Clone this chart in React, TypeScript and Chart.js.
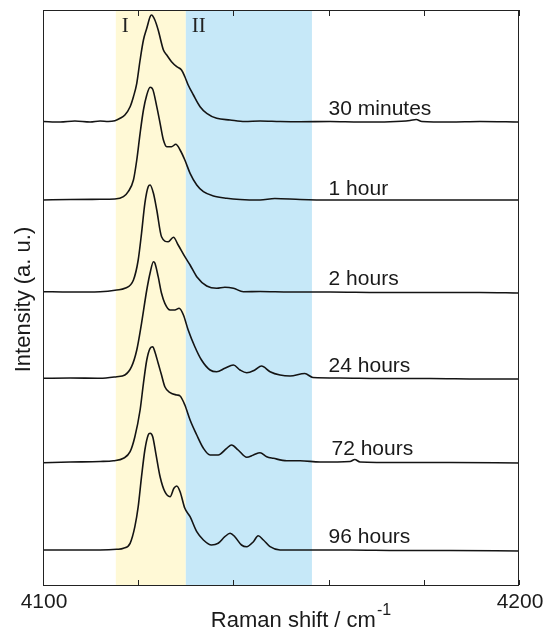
import React, { useEffect, useRef } from "react";
import { Chart, registerables } from "chart.js";

Chart.register(...registerables);

// ---- axis ranges & ticks ----
const X_MIN = 4100;
const X_MAX = 4200;
const Y_MIN = 0;
const Y_MAX = 115;
const xTickValues = [4100, 4120, 4140, 4160, 4180, 4200];
const xTickLabels = ["4100", "", "", "", "", "4200"];
const xTitle = "Raman shift / cm";
const xTitleSup = "-1";
const yTitle = "Intensity (a. u.)";

// ---- shaded regions ----
const regionStarts = [4115.3, 4130];
const regionEnds = [4130, 4156.5];
const regionLabels = ["I", "II"];
const regionColors = ["#FFF9D6", "#C6E8F8"];

// ---- series labels ----
const seriesNames = ["30 minutes", "1 hour", "2 hours", "24 hours", "72 hours", "96 hours"];
const labelX = [4160, 4160, 4160, 4160, 4160.6, 4160];
const labelY = [94, 78, 60, 42.7, 26, 8.5];

// ---- spectra (offset stacked, arbitrary units) ----
const shift30m = [4100, 4103.6, 4106.7, 4109.9, 4112.0, 4113.7, 4115.1, 4116.2, 4117.2, 4118.3, 4119.0, 4119.7, 4120.4, 4121.1, 4121.8, 4122.5, 4122.8, 4123.5, 4124.2, 4125.3, 4126.0, 4127.0, 4128.1, 4129.1, 4129.8, 4130.5, 4131.6, 4133.0, 4134.4, 4136.5, 4139.3, 4142.4, 4145.6, 4149.8, 4154.0, 4160.3, 4166.6, 4172.9, 4177.1, 4178.4, 4179.6, 4185.5, 4191.8, 4200];
const int30m = [92.7, 92.6, 92.8, 92.6, 92.8, 92.7, 92.86, 93.34, 94.0, 95.66, 97.66, 100.34, 105, 109, 111.34, 113.66, 114, 113, 111, 107, 106, 104.66, 103.66, 103, 101.66, 100, 98, 95.66, 94.34, 93.34, 93, 92.7, 92.8, 92.7, 92.66, 92.7, 92.6, 92.66, 92.9, 93.1, 92.7, 92.6, 92.7, 92.6];

const shift1h = [4100, 4105.7, 4112.0, 4115.1, 4116.9, 4117.9, 4119.0, 4119.7, 4120.4, 4121.1, 4121.8, 4122.5, 4123.05, 4123.9, 4124.6, 4125.3, 4126.0, 4127.0, 4127.9, 4128.8, 4129.8, 4130.9, 4132.3, 4133.7, 4135.8, 4138.6, 4141.4, 4145.6, 4148.7, 4154.0, 4160.3, 4170.8, 4181.3, 4191.8, 4200];
const int1h = [77, 77.1, 77.14, 77.2, 77.66, 78.66, 81, 85, 90.34, 95, 98, 99.54, 99.14, 95.66, 92.34, 89, 87.66, 87.66, 88.14, 87, 85, 82.34, 80, 78.66, 77.8, 77.34, 77.1, 77, 77.3, 77.1, 77, 77, 77, 77, 77];

const shift2h = [4100, 4105.7, 4112.0, 4115.5, 4117.2, 4119.0, 4120.0, 4120.7, 4121.4, 4122.1, 4122.5, 4123.2, 4123.9, 4124.9, 4126.3, 4127.4, 4128.4, 4129.8, 4130.9, 4132.3, 4134.4, 4136.5, 4138.2, 4140.0, 4142.1, 4145.6, 4151.9, 4160.3, 4170.8, 4181.3, 4191.8, 4200];
const int2h = [58.66, 58.6, 58.66, 59, 59.34, 61, 65, 70.34, 76.34, 79.66, 80, 78.34, 75, 69.66, 68.66, 69.54, 68, 65.66, 64, 61.66, 59.8, 59.34, 59.54, 59.34, 58.66, 58.7, 58.6, 58.6, 58.5, 58.5, 58.5, 58.4];

const shift24h = [4100, 4105.7, 4112.0, 4115.5, 4117.2, 4118.6, 4119.7, 4120.7, 4121.8, 4122.5, 4123.2, 4123.5, 4124.2, 4124.9, 4125.6, 4126.7, 4127.7, 4128.6, 4129.5, 4130.5, 4131.9, 4133.3, 4135.1, 4136.5, 4138.2, 4140.0, 4141.4, 4142.8, 4144.5, 4145.9, 4147.7, 4149.8, 4151.9, 4155.0, 4156.7, 4162.4, 4170.8, 4181.3, 4191.8, 4200];
const int24h = [41.34, 41.4, 41.34, 41.66, 42, 43.66, 47, 52.34, 59, 62.4, 64.66, 64.4, 61.66, 58.34, 56.34, 55, 55, 55.34, 54, 51, 47.66, 45, 43, 42.66, 43.34, 44, 43, 42.46, 43, 43.8, 42.66, 42, 41.8, 42.3, 41.5, 41.4, 41.3, 41.3, 41.2, 41.2];

const shift72h = [4100, 4105.7, 4112.0, 4114.8, 4116.9, 4118.3, 4119.3, 4120.4, 4121.1, 4121.8, 4122.5, 4123.05, 4123.5, 4124.2, 4124.9, 4125.6, 4126.7, 4128.1, 4128.8, 4129.8, 4130.9, 4132.3, 4133.7, 4135.1, 4136.8, 4138.6, 4139.6, 4141.0, 4142.8, 4144.2, 4145.6, 4147.0, 4148.4, 4151.2, 4154.0, 4158.2, 4164.5, 4165.5, 4166.6, 4175.0, 4185.5, 4200];
const int72h = [24.46, 24.6, 24.7, 24.86, 25.34, 26.66, 29.66, 35, 40.34, 45, 47.34, 47.66, 46.66, 44.34, 42, 39.66, 38.46, 38, 37.8, 36, 33, 30, 27.34, 26, 26, 27.34, 28, 27, 25.54, 26, 26.46, 25.66, 25.34, 24.86, 24.86, 24.6, 24.7, 25.1, 24.6, 24.5, 24.5, 24.4];

const shift96h = [4100, 4105.7, 4112.0, 4115.5, 4116.9, 4118.3, 4119.3, 4120.0, 4120.7, 4121.4, 4122.1, 4122.5, 4123.05, 4123.7, 4124.6, 4125.6, 4126.7, 4127.5, 4128.1, 4128.8, 4129.8, 4130.9, 4132.3, 4133.7, 4135.4, 4136.8, 4138.2, 4139.3, 4140.3, 4141.7, 4142.8, 4144.2, 4145.2, 4146.3, 4147.7, 4149.8, 4154.0, 4164.5, 4175.0, 4185.5, 4200];
const int96h = [7, 7, 7, 7.14, 7.34, 8.34, 11.66, 15.66, 21.66, 27, 30, 30.34, 29.66, 26.34, 21.66, 18.66, 17.66, 19.34, 19.8, 18.66, 15.34, 13.66, 10.66, 9, 8, 8.34, 9.66, 10.34, 9.66, 8, 7.66, 8.66, 9.86, 9, 7.66, 7, 7, 7, 6.9, 6.9, 6.8];

const seriesShifts = [shift30m, shift1h, shift2h, shift24h, shift72h, shift96h];
const seriesIntensities = [int30m, int1h, int2h, int24h, int72h, int96h];

const SANS = "'Liberation Sans', Arial, Helvetica, sans-serif";
const SERIF = "'Liberation Serif', 'Times New Roman', serif";
const TEXT = "#1a1a1a";

const decorPlugin = {
  id: "decor",
  beforeDatasetsDraw(chart: any) {
    const { ctx, chartArea, scales } = chart;
    const xs = scales.x;
    ctx.save();
    for (let i = 0; i < regionStarts.length; i++) {
      const a = xs.getPixelForValue(regionStarts[i]);
      const b = xs.getPixelForValue(regionEnds[i]);
      ctx.fillStyle = regionColors[i];
      ctx.fillRect(a, chartArea.top, b - a, chartArea.bottom - chartArea.top);
    }
    ctx.fillStyle = "#222";
    ctx.font = `21px ${SERIF}`;
    ctx.textBaseline = "alphabetic";
    ctx.textAlign = "left";
    for (let i = 0; i < regionStarts.length; i++) {
      const a = xs.getPixelForValue(regionStarts[i]);
      ctx.fillText(regionLabels[i], a + 6, chartArea.top + 22);
    }
    ctx.restore();
  },
  afterDatasetsDraw(chart: any) {
    const { ctx, chartArea, scales } = chart;
    const xs = scales.x;
    const ys = scales.y;
    ctx.save();
    ctx.strokeStyle = "#222";
    ctx.lineWidth = 1;
    ctx.strokeRect(chartArea.left + 0.5, chartArea.top + 0.5, chartArea.right - chartArea.left - 1, chartArea.bottom - chartArea.top);
    ctx.beginPath();
    for (const v of xTickValues) {
      const p = Math.round(xs.getPixelForValue(v)) + 0.5;
      ctx.moveTo(p, chartArea.top);
      ctx.lineTo(p, chartArea.top + 6);
      ctx.moveTo(p, chartArea.bottom);
      ctx.lineTo(p, chartArea.bottom - 5);
    }
    ctx.stroke();
    ctx.fillStyle = TEXT;
    ctx.font = `21px ${SANS}`;
    ctx.textAlign = "center";
    ctx.textBaseline = "alphabetic";
    xTickValues.forEach((v, i) => {
      if (xTickLabels[i]) ctx.fillText(xTickLabels[i], xs.getPixelForValue(v) + 1, chartArea.bottom + 23);
    });
    ctx.font = `22px ${SANS}`;
    ctx.textAlign = "left";
    const mainW = ctx.measureText(xTitle).width;
    ctx.font = `16px ${SANS}`;
    const supW = ctx.measureText(xTitleSup).width;
    const total = mainW + supW + 1;
    const cx = (chartArea.left + chartArea.right) / 2 + 20;
    const x0 = cx - total / 2;
    ctx.font = `22px ${SANS}`;
    ctx.fillText(xTitle, x0, chartArea.bottom + 42);
    ctx.font = `16px ${SANS}`;
    ctx.fillText(xTitleSup, x0 + mainW + 1, chartArea.bottom + 30);
    ctx.save();
    ctx.translate(30, (chartArea.top + chartArea.bottom) / 2 + 2);
    ctx.rotate(-Math.PI / 2);
    ctx.font = `22px ${SANS}`;
    ctx.textAlign = "center";
    ctx.textBaseline = "alphabetic";
    ctx.fillText(yTitle, 0, 0);
    ctx.restore();
    ctx.font = `21px ${SANS}`;
    ctx.textAlign = "left";
    ctx.textBaseline = "alphabetic";
    seriesNames.forEach((name, i) => {
      ctx.fillText(name, xs.getPixelForValue(labelX[i]), ys.getPixelForValue(labelY[i]));
    });
    ctx.restore();
  },
};

export default function App() {
  const canvasRef = useRef<HTMLCanvasElement | null>(null);

  useEffect(() => {
    const canvas = canvasRef.current;
    if (!canvas) return;
    const datasets = seriesNames.map((name, i) => ({
      label: name,
      data: seriesShifts[i].map((x, j) => ({ x, y: seriesIntensities[i][j] })),
      borderColor: "#141414",
      borderWidth: 1.6,
      pointRadius: 0,
      fill: false,
      tension: 0.35,
      cubicInterpolationMode: "monotone" as const,
    }));
    const chart = new Chart(canvas, {
      type: "line",
      data: { datasets },
      options: {
        animation: false,
        responsive: false,
        devicePixelRatio: 1,
        layout: { padding: { left: 43, top: 10, right: 27, bottom: 48 } },
        plugins: { legend: { display: false }, tooltip: { enabled: false } },
        scales: {
          x: { type: "linear", min: X_MIN, max: X_MAX, display: false },
          y: { type: "linear", min: Y_MIN, max: Y_MAX, display: false },
        },
      },
      plugins: [decorPlugin],
    });
    return () => chart.destroy();
  }, []);

  return (
    <div style={{ position: "fixed", left: 0, top: 0, width: 546, height: 633, background: "#fff" }}>
      <canvas ref={canvasRef} width={546} height={633} style={{ display: "block" }} />
    </div>
  );
}
